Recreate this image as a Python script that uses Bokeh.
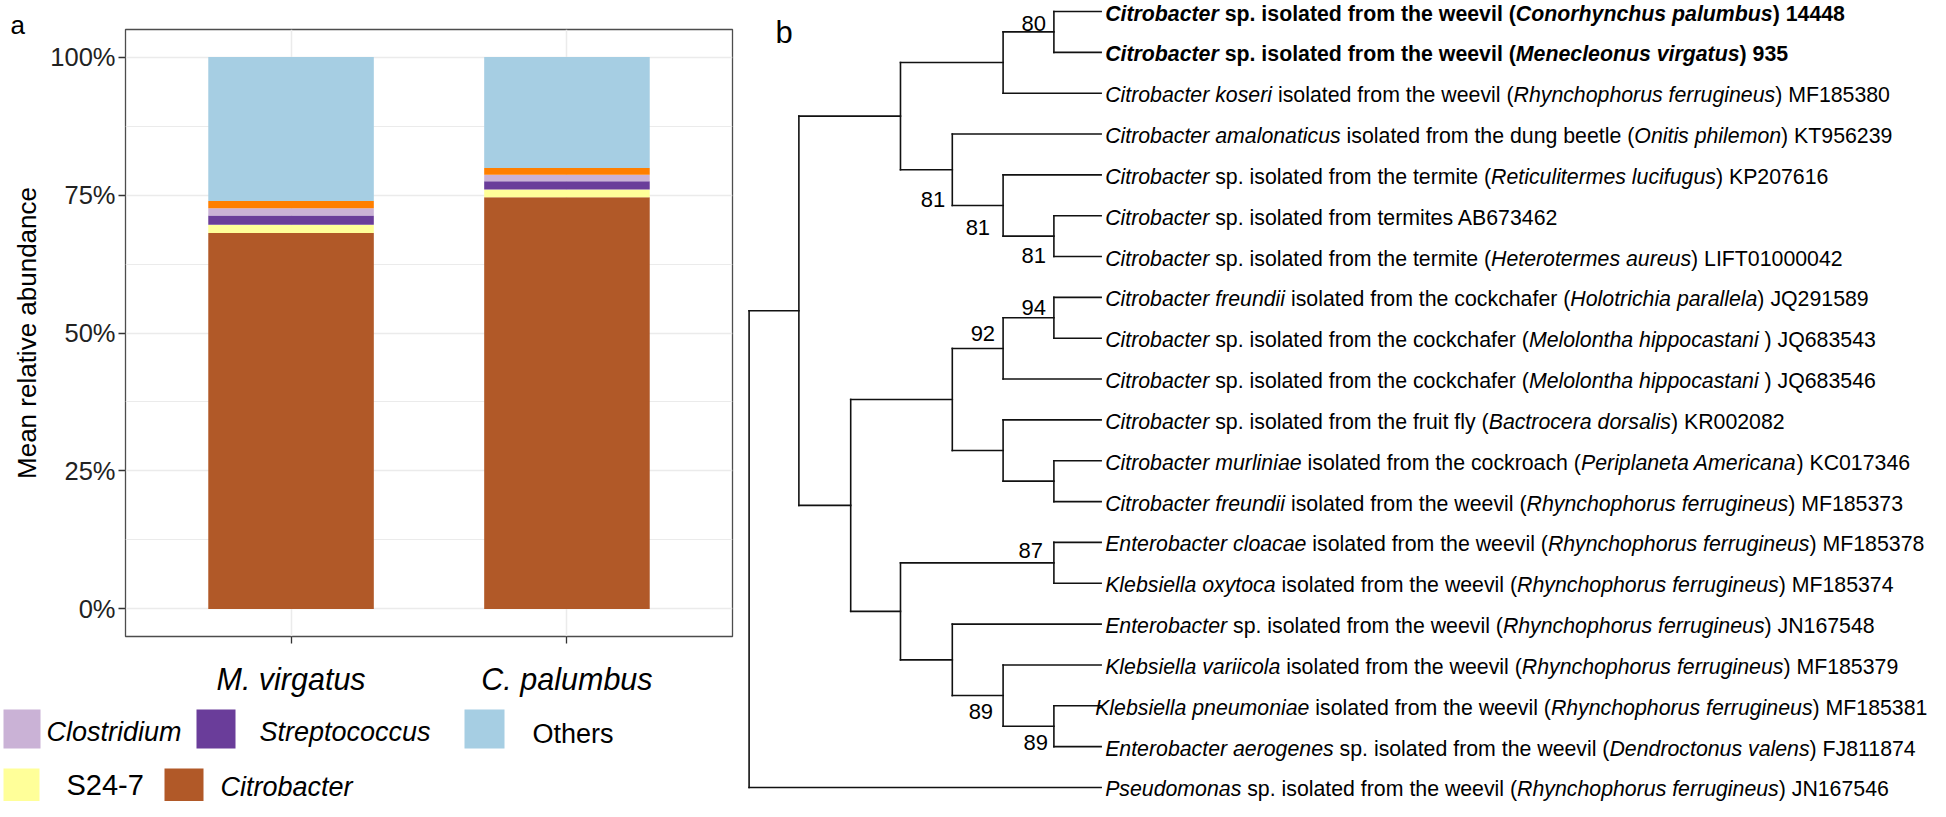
import math
from bokeh.plotting import figure
from bokeh.models import (ColumnDataSource, FactorRange, Range1d, FixedTicker,
                          NumeralTickFormatter, Label)
from bokeh.layouts import row, column
from bokeh.embed import file_html
from bokeh.resources import INLINE
from bokeh.core.properties import value, field

# ---------------- panel a data ----------------
categories = ["M. virgatus", "C. palumbus"]
citrobacter = [0.681, 0.746]
s24_7 = [0.015, 0.014]
streptococcus = [0.017, 0.015]
clostridium = [0.013, 0.012]
unlabelled = [0.013, 0.012]
others = [0.261, 0.201]
genus_order = ["Citrobacter", "S24-7", "Streptococcus", "Clostridium", "unlabelled", "Others"]
genus_colors = ["#b15928", "#ffff99", "#6a3d9a", "#cab2d6", "#ff7f00", "#a6cee3"]
y_ticks = [0.0, 0.25, 0.5, 0.75, 1.0]

legend_names = ["Clostridium", "Streptococcus", "Others", "S24-7", "Citrobacter"]
legend_colors = ["#cab2d6", "#6a3d9a", "#a6cee3", "#ffff99", "#b15928"]
legend_italic = [True, True, False, False, True]

# ---------------- panel b data ----------------
tip_labels = [
    "*Citrobacter* sp. isolated from the weevil (*Conorhynchus palumbus*) 14448",
    "*Citrobacter* sp. isolated from the weevil (*Menecleonus virgatus*) 935",
    "*Citrobacter koseri* isolated from the weevil (*Rhynchophorus ferrugineus*) MF185380",
    "*Citrobacter amalonaticus* isolated from the dung beetle (*Onitis philemon*) KT956239",
    "*Citrobacter* sp. isolated from the termite (*Reticulitermes lucifugus*) KP207616",
    "*Citrobacter* sp. isolated from termites AB673462",
    "*Citrobacter* sp. isolated from the termite (*Heterotermes aureus*) LIFT01000042",
    "*Citrobacter freundii* isolated from the cockchafer (*Holotrichia parallela*) JQ291589",
    "*Citrobacter* sp. isolated from the cockchafer (*Melolontha hippocastani* ) JQ683543",
    "*Citrobacter* sp. isolated from the cockchafer (*Melolontha hippocastani* ) JQ683546",
    "*Citrobacter* sp. isolated from the fruit fly (*Bactrocera dorsalis*) KR002082",
    "*Citrobacter murliniae* isolated from the cockroach (*Periplaneta Americana*) KC017346",
    "*Citrobacter freundii* isolated from the weevil (*Rhynchophorus ferrugineus*) MF185373",
    "*Enterobacter cloacae* isolated from the weevil (*Rhynchophorus ferrugineus*) MF185378",
    "*Klebsiella oxytoca* isolated from the weevil (*Rhynchophorus ferrugineus*) MF185374",
    "*Enterobacter* sp. isolated from the weevil (*Rhynchophorus ferrugineus*) JN167548",
    "*Klebsiella variicola* isolated from the weevil (*Rhynchophorus ferrugineus*) MF185379",
    "*Klebsiella pneumoniae* isolated from the weevil (*Rhynchophorus ferrugineus*) MF185381",
    "*Enterobacter aerogenes* sp. isolated from the weevil (*Dendroctonus valens*) FJ811874",
    "*Pseudomonas* sp. isolated from the weevil (*Rhynchophorus ferrugineus*) JN167546",
]
tip_bold = [True, True] + [False] * 18
tips = ["t%d" % i for i in range(len(tip_labels))]
tree_children = {
    "R": ["N1", "t19"], "N1": ["A", "B"],
    "A": ["C", "D"], "C": ["E", "t2"], "E": ["t0", "t1"],
    "D": ["t3", "F"], "F": ["t4", "G"], "G": ["t5", "t6"],
    "B": ["H", "K"], "H": ["I", "J"], "I": ["I2", "t9"], "I2": ["t7", "t8"],
    "J": ["t10", "J2"], "J2": ["t11", "t12"],
    "K": ["L", "M"], "L": ["t13", "t14"], "M": ["t15", "N"], "N": ["t16", "O"], "O": ["t17", "t18"],
}
node_depth = {"R": 0.0, "N1": 0.98, "B": 2.0, "A": 2.98, "K": 2.98,
              "D": 4.0, "H": 4.0, "M": 4.0,
              "C": 5.0, "F": 5.0, "I": 5.0, "J": 5.0, "N": 5.0,
              "E": 6.0, "G": 6.0, "I2": 6.0, "J2": 6.0, "L": 6.0, "O": 6.0}
tip_depth = 6.93
bootstrap_values = ["80", "81", "81", "81", "94", "92", "87", "89", "89"]
bootstrap_nodes = ["E", "D", "F", "G", "I2", "I", "L", "N", "O"]
bootstrap_rows = ["E", "F", "G", "t6", "I2", "I", "L", "N", "t18"]

# ---------------- styling / layout ----------------
FONT = "Liberation Sans"
boot_dx = [-8, -7, -13, -8, -8, -8, -11, -10, -6]
boot_dy = [-8, -6, -9, -1, -10.5, -15, -12, 16, -4]
label_shift = {17: -10}
TIP_FS = 21.3

REG = dict(zip("ABCDEFGHIJKLMNOPQRSTUVWXYZ",
               [667, 667, 722, 722, 667, 611, 778, 722, 278, 500, 667, 556, 833, 722, 778, 667, 778, 722, 667, 611, 722, 667, 944, 667, 667, 611]))
REG.update(zip("abcdefghijklmnopqrstuvwxyz",
               [556, 556, 500, 556, 556, 278, 556, 556, 222, 222, 500, 222, 833, 556, 556, 556, 556, 333, 500, 278, 556, 500, 722, 500, 500, 500]))
BLD = dict(zip("ABCDEFGHIJKLMNOPQRSTUVWXYZ",
               [722, 722, 722, 722, 667, 611, 778, 722, 278, 556, 722, 611, 833, 722, 778, 667, 778, 722, 667, 611, 722, 667, 944, 667, 667, 611]))
BLD.update(zip("abcdefghijklmnopqrstuvwxyz",
               [556, 611, 556, 611, 556, 333, 611, 611, 278, 278, 556, 278, 889, 611, 611, 611, 611, 389, 556, 333, 611, 556, 778, 556, 556, 500]))
for t in (REG, BLD):
    t.update({d: 556 for d in "0123456789"})
    t.update({" ": 278, "(": 333, ")": 333, ".": 278, "-": 333})


def text_w(s, bold, fs):
    tab = BLD if bold else REG
    return sum(tab.get(ch, 556) for ch in s) / 1000.0 * fs


def bare(fig):
    fig.outline_line_color = None
    fig.grid.visible = False
    fig.frame_align = False
    return fig


LEFT_H = 700  # height of strip + bar panel
STRIP_W = 47

# ---------------- left strip: panel letter + y-axis title ----------------
pS = bare(figure(width=STRIP_W, height=LEFT_H, x_range=Range1d(0, STRIP_W), y_range=Range1d(LEFT_H, 0),
                 x_axis_location=None, y_axis_location=None, min_border=0,
                 output_backend="svg", toolbar_location=None))
pS.add_layout(Label(x=10, y=24, text="a", text_font=FONT, text_font_size="26px",
                    text_color="#000000", text_baseline="alphabetic", text_align="left"))
pS.add_layout(Label(x=26, y=332.5, text="Mean relative abundance", angle=math.pi / 2,
                    text_font=FONT, text_font_size="26px", text_color="#000000",
                    text_baseline="middle", text_align="center"))

# ---------------- panel a ----------------
src = ColumnDataSource(dict(cat=categories, **dict(zip(genus_order, [citrobacter, s24_7, streptococcus, clostridium, unlabelled, others]))))
pA = figure(width=740 - STRIP_W, height=LEFT_H, x_range=FactorRange(factors=categories, range_padding=0.1),
            y_range=Range1d(-0.05, 1.05), output_backend="svg", toolbar_location=None,
            min_border_left=123 - STRIP_W, min_border_right=8, min_border_top=29,
            min_border_bottom=LEFT_H - 29 - 607)
pA.frame_align = False
pA.vbar_stack(genus_order, x="cat", width=0.6, fill_color=genus_colors, line_color=None, source=src)
pA.outline_line_color = "#4d4d4d"
pA.outline_line_width = 1.3
pA.background_fill_color = "white"
pA.border_fill_color = "white"
minor = [(a + b) / 2 for a, b in zip(y_ticks[:-1], y_ticks[1:])]
pA.yaxis.ticker = FixedTicker(ticks=y_ticks, minor_ticks=minor)
pA.yaxis.formatter = NumeralTickFormatter(format="0%")
for g in (pA.xgrid, pA.ygrid):
    g.grid_line_color = "#ebebeb"
    g.grid_line_width = 1.5
pA.ygrid.minor_grid_line_color = "#ebebeb"
pA.ygrid.minor_grid_line_width = 1.1
for ax in (pA.xaxis, pA.yaxis):
    ax.axis_line_color = None
    ax.major_tick_out = 7
    ax.major_tick_in = 0
    ax.minor_tick_line_color = None
    ax.major_tick_line_color = "#333333"
    ax.major_tick_line_width = 1.3
    ax.major_label_text_font = FONT
    ax.major_label_text_color = "#222222"
pA.yaxis.major_label_text_font_size = "25.5px"
pA.yaxis.major_label_standoff = 3
pA.xaxis.major_label_text_font_size = "30.5px"
pA.xaxis.major_label_text_font_style = "italic"
pA.xaxis.major_label_text_color = "#000000"
pA.xaxis.major_label_standoff = 18

# ---------------- legend (below panel a) ----------------
LEG_TOP = LEFT_H
LEG_BOT = 801
leg_boxes = [(3, 40, 709, 748), (196, 235, 709, 748), (464, 504, 709, 748), (3, 39, 768, 801), (164, 203, 768, 801)]
leg_text_xy = [(46, 731), (259, 731), (532, 733), (66, 784), (220, 786)]
leg_text_size = ["27px", "27px", "27px", "29px", "27px"]
pL = bare(figure(width=740, height=LEG_BOT - LEG_TOP, x_range=Range1d(0, 740), y_range=Range1d(LEG_BOT, LEG_TOP),
                 x_axis_location=None, y_axis_location=None, min_border=0,
                 output_backend="svg", toolbar_location=None))
lsrc = ColumnDataSource(dict(
    l=[b[0] for b in leg_boxes], r=[b[1] for b in leg_boxes],
    t=[b[2] for b in leg_boxes], b=[b[3] for b in leg_boxes], c=legend_colors,
    tx=[p[0] for p in leg_text_xy], ty=[p[1] for p in leg_text_xy], name=legend_names,
    st=["italic" if it else "normal" for it in legend_italic], fs=leg_text_size))
pL.quad(left="l", right="r", top="t", bottom="b", fill_color="c", line_color=None, source=lsrc)
pL.text(x="tx", y="ty", text="name", text_font=value(FONT), text_font_size=field("fs"),
        text_font_style=field("st"), text_baseline="middle", text_align="left",
        text_color="#000000", source=lsrc)

# ---------------- panel b (tree) ----------------
ypos = {t: float(i) for i, t in enumerate(tips)}


def node_y(n):
    if n in ypos:
        return ypos[n]
    ys = [node_y(c) for c in tree_children[n]]
    ypos[n] = sum(ys) / len(ys)
    return ypos[n]


node_y("R")
xpos = dict(node_depth)
xpos.update({t: tip_depth for t in tips})

sx0, sy0, sx1, sy1 = [], [], [], []
for n, ch in tree_children.items():
    ys = [ypos[c] for c in ch]
    sx0.append(xpos[n]); sx1.append(xpos[n]); sy0.append(min(ys)); sy1.append(max(ys))
    for c in ch:
        sx0.append(xpos[n]); sx1.append(xpos[c]); sy0.append(ypos[c]); sy1.append(ypos[c])

B_W, B_H = 1190, 801
UNIT = 50.8
ROOT_PX = 748.6 - 740
X0 = -ROOT_PX / UNIT
ROW_PX = 40.84
TOP_PX = 11.0
pB = bare(figure(width=B_W, height=B_H, x_range=Range1d(X0, X0 + B_W / UNIT),
                 y_range=Range1d((B_H - TOP_PX) / ROW_PX, -TOP_PX / ROW_PX),
                 x_axis_location=None, y_axis_location=None, min_border=0,
                 output_backend="svg", toolbar_location=None))
pB.segment(x0=sx0, y0=sy0, x1=sx1, y1=sy1, line_color="#111111", line_width=1.6, line_cap="square")

tx, ty, tt, txo, tst = [], [], [], [], []
for i, lab in enumerate(tip_labels):
    bold = tip_bold[i]
    off = 4.0 + label_shift.get(i, 0)
    for k, part in enumerate(lab.split("*")):
        if not part:
            continue
        italic = (k % 2 == 1)
        style = ("bold italic" if italic else "bold") if bold else ("italic" if italic else "normal")
        lead = len(part) - len(part.lstrip(" "))
        core = part.strip(" ")
        o = off + text_w(" " * lead, bold, TIP_FS)
        if core:
            tx.append(tip_depth); ty.append(ypos[tips[i]]); tt.append(core)
            txo.append(o); tst.append(style)
        off += text_w(part, bold, TIP_FS)
tsrc = ColumnDataSource(dict(x=tx, y=ty, text=tt, xo=txo, st=tst))
pB.text(x="x", y="y", text="text", x_offset=field("xo"), y_offset=2,
        text_font_style=field("st"), text_font=value(FONT), text_font_size=value("%.1fpx" % TIP_FS),
        text_baseline="middle", text_align="left", text_color="#000000", source=tsrc)

bsrc = ColumnDataSource(dict(
    x=[xpos[n] for n in bootstrap_nodes], y=[ypos[r] for r in bootstrap_rows],
    text=bootstrap_values, dx=boot_dx, dy=boot_dy))
pB.text(x="x", y="y", text="text", x_offset=field("dx"), y_offset=field("dy"),
        text_font=value(FONT), text_font_size=value("22px"), text_baseline="middle",
        text_align="right", text_color="#000000", source=bsrc)
pB.add_layout(Label(x=35, y=B_H - 31.7, x_units="screen", y_units="screen", text="b",
                    text_font=FONT, text_font_size="31px", text_color="#000000",
                    text_baseline="alphabetic", text_align="left"))

layout = row(column(row(pS, pA), pL), pB)
open("out.html", "w").write(file_html(layout, INLINE))
